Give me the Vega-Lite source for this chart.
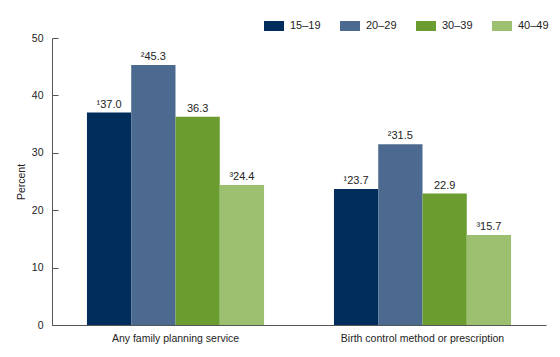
{
  "$schema": "https://vega.github.io/schema/vega-lite/v6.json",
  "width": 494,
  "height": 287,
  "autosize": {"type": "none"},
  "padding": {"left": 52, "top": 38, "right": 14, "bottom": 32},
  "background": "white",
  "config": {
    "font": "Liberation Sans",
    "view": {"stroke": null}
  },
  "data": {
    "values": [
      {"service": "Any family planning service", "age": "15–19", "percent": 37.0, "label": "¹37.0"},
      {"service": "Any family planning service", "age": "20–29", "percent": 45.3, "label": "²45.3"},
      {"service": "Any family planning service", "age": "30–39", "percent": 36.3, "label": "36.3"},
      {"service": "Any family planning service", "age": "40–49", "percent": 24.4, "label": "³24.4"},
      {"service": "Birth control method or prescription", "age": "15–19", "percent": 23.7, "label": "¹23.7"},
      {"service": "Birth control method or prescription", "age": "20–29", "percent": 31.5, "label": "²31.5"},
      {"service": "Birth control method or prescription", "age": "30–39", "percent": 22.9, "label": "22.9"},
      {"service": "Birth control method or prescription", "age": "40–49", "percent": 15.7, "label": "³15.7"}
    ]
  },
  "encoding": {
    "x": {
      "field": "service",
      "type": "nominal",
      "sort": null,
      "scale": {"paddingInner": 0.283, "paddingOuter": 0.1415},
      "axis": {
        "title": null,
        "labelAngle": 0,
        "ticks": false,
        "labelPadding": 8,
        "labelFontSize": 10.5,
        "labelColor": "#222222",
        "domainColor": "#555555",
        "labelLimit": 400
      }
    },
    "xOffset": {"field": "age", "type": "nominal", "sort": null},
    "y": {
      "field": "percent",
      "type": "quantitative",
      "scale": {"domain": [0, 50]},
      "axis": {
        "title": "Percent",
        "titleFontWeight": "normal",
        "titleFontSize": 10.5,
        "titleColor": "#222222",
        "titlePadding": 5,
        "values": [0, 10, 20, 30, 40, 50],
        "grid": false,
        "tickSize": -6,
        "tickColor": "#555555",
        "domainColor": "#555555",
        "labelFontSize": 10.5,
        "labelColor": "#222222",
        "labelPadding": 15
      }
    }
  },
  "layer": [
    {
      "mark": {"type": "bar"},
      "encoding": {
        "color": {
          "field": "age",
          "type": "nominal",
          "sort": null,
          "scale": {
            "domain": ["15–19", "20–29", "30–39", "40–49"],
            "range": ["#002D5B", "#4C6A8F", "#6A9C2F", "#9CC070"]
          },
          "legend": {
            "title": null,
            "orient": "none",
            "direction": "horizontal",
            "legendX": 212,
            "legendY": -22,
            "symbolType": "M-1,-0.5H1V0.5H-1Z",
            "symbolSize": 400,
            "symbolStrokeWidth": 0,
            "labelFontSize": 11,
            "labelColor": "#222222",
            "labelOffset": 6,
            "columnPadding": 19,
            "padding": 0
          }
        }
      }
    },
    {
      "mark": {"type": "text", "baseline": "bottom", "dy": -3, "fontSize": 11, "color": "#222222"},
      "encoding": {
        "text": {"field": "label"}
      }
    }
  ]
}
